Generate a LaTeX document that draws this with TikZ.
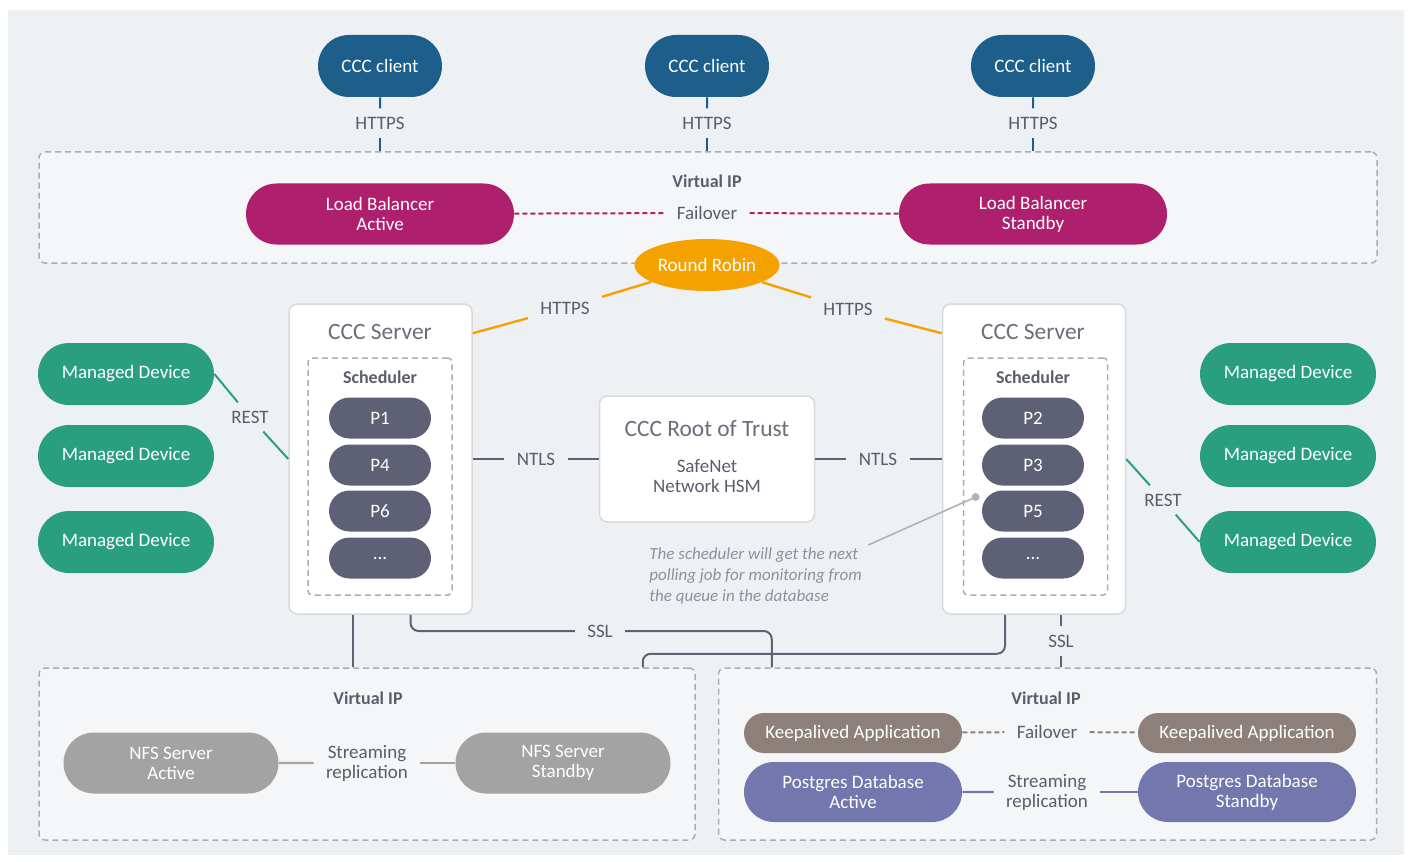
\documentclass[tikz,border=0pt]{standalone}
\usepackage{fontspec}
\setmainfont{Carlito}
\usepackage{xcolor}
\usetikzlibrary{shapes.misc,shapes.geometric}
\definecolor{bgc}{HTML}{EEF1F4}
\definecolor{boxc}{HTML}{F4F6F8}
\definecolor{dashc}{HTML}{A9AEB5}
\definecolor{cblue}{HTML}{1D5F8A}
\definecolor{lbmag}{HTML}{AE1F6D}
\definecolor{rrorange}{HTML}{F5A100}
\definecolor{devgreen}{HTML}{2A9F80}
\definecolor{jobslate}{HTML}{5E6175}
\definecolor{nfsgray}{HTML}{A3A3A3}
\definecolor{kabrown}{HTML}{8D807A}
\definecolor{pgpurple}{HTML}{7476AE}
\definecolor{linec}{HTML}{5F6272}
\definecolor{txtc}{HTML}{5A5D6B}
\definecolor{notec}{HTML}{8E919C}

\begin{document}
\begin{tikzpicture}[x=0.5pt,y=-0.5pt,
  every node/.style={font=\fontsize{9.5}{10}\selectfont},
  pill/.style={rounded rectangle,text=white,inner sep=0pt,align=center},
  client/.style={pill,fill=cblue,minimum width=62pt,minimum height=31pt},
  lb/.style={pill,fill=lbmag,minimum width=134pt,minimum height=30.5pt},
  dev/.style={pill,fill=devgreen,minimum width=88pt,minimum height=31pt},
  job/.style={pill,fill=jobslate,minimum width=51pt,minimum height=20.5pt},
  nfs/.style={pill,fill=nfsgray,minimum width=107.5pt,minimum height=30.5pt},
  ka/.style={pill,fill=kabrown,minimum width=109pt,minimum height=20pt},
  pg/.style={pill,fill=pgpurple,minimum width=109pt,minimum height=30pt},
  lbl/.style={text=txtc,inner xsep=6pt,inner ysep=4pt,align=center},
  ttl/.style={text=txtc,font=\bfseries\fontsize{9}{10}\selectfont,inner sep=0pt},
  big/.style={text=txtc!90,font=\fontsize{11.7}{14}\selectfont,inner sep=0pt},
  vipbox/.style={draw=dashc,dash pattern=on 3pt off 2pt,fill=boxc,line width=0.75pt,rounded corners=3pt},
  srvbox/.style={draw=black!15,fill=white,line width=0.75pt,rounded corners=4pt},
  schedbox/.style={draw=dashc,dash pattern=on 3pt off 2pt,line width=0.75pt,rounded corners=2pt},
  fline/.style={line width=1pt,dash pattern=on 2.5pt off 1.5pt},
  cline/.style={draw=cblue,line width=1pt},
  oline/.style={draw=rrorange,line width=1.2pt},
  gline/.style={draw=devgreen,line width=1pt},
  dline/.style={draw=linec,line width=1pt,rounded corners=4pt}]
%
\useasboundingbox (0,0) rectangle (1411,861);
\fill[white] (0,0) rectangle (1411,861);
\fill[bgc] (8,10) rectangle (1404,855);
%
% clients and load balancers
\node[vipbox,minimum width=669pt,minimum height=55.5pt] (vip) at (708,207.5) {};
\node[ttl] (vt) at (707,181) {Virtual IP};
\node[client] (cl1) at (380,66) {CCC client};
\node[client] (cl2) at (707,66) {CCC client};
\node[client] (cl3) at (1033,66) {CCC client};
\node[lbl] (h1) at (380,123) {HTTPS};
\node[lbl] (h2) at (707,123) {HTTPS};
\node[lbl] (h3) at (1033,123) {HTTPS};
\node[lb] (lba) at (380,214) {Load Balancer\\Active};
\node[lb] (lbs) at (1033,214) {Load Balancer\\Standby};
\node[lbl] (fo) at (707,213) {Failover};
\node[ellipse,fill=rrorange,text=white,inner sep=0pt,minimum width=72.5pt,minimum height=26pt] (rr) at (707,265) {Round Robin};
%
\draw[cline] (cl1) -- (h1);
\draw[cline] (h1) -- (h1 |- vip.north);
\draw[cline] (cl2) -- (h2);
\draw[cline] (h2) -- (h2 |- vip.north);
\draw[cline] (cl3) -- (h3);
\draw[cline] (h3) -- (h3 |- vip.north);
\draw[lbmag,fline] (lba) -- (fo);
\draw[lbmag,fline] (fo) -- (lbs);
%
% servers
\node[srvbox,minimum width=91.5pt,minimum height=155pt] (srvL) at (380.5,459) {};
\node[srvbox,minimum width=91.5pt,minimum height=155pt] (srvR) at (1034,459) {};
\node[big] (stL) at (380,332) {CCC Server};
\node[big] (stR) at (1033,332) {CCC Server};
\node[schedbox,minimum width=72pt,minimum height=118.5pt] (schL) at (380,476.5) {};
\node[schedbox,minimum width=72pt,minimum height=118.5pt] (schR) at (1035.5,476.5) {};
\node[ttl] (scL) at (380,377) {Scheduler};
\node[ttl] (scR) at (1033,377) {Scheduler};
\node[job] (p1) at (380,418) {P1};
\node[job] (p4) at (380,465) {P4};
\node[job] (p6) at (380,511) {P6};
\node[job] (pl) at (380,558) {...};
\node[job] (p2) at (1033,418) {P2};
\node[job] (p3) at (1033,465) {P3};
\node[job] (p5) at (1033,511) {P5};
\node[job] (pr) at (1033,558) {...};
%
\node[lbl] (hl) at (565,308) {HTTPS};
\node[lbl] (hr) at (848,309) {HTTPS};
\draw[oline] (rr) -- (hl);
\draw[oline] (hl) -- ([yshift=-15pt]srvL.north east);
\draw[oline] (rr) -- (hr);
\draw[oline] (hr) -- ([yshift=-15pt]srvR.north west);
%
% managed devices
\node[dev] (mdL1) at (126,374) {Managed Device};
\node[dev] (mdL2) at (126,456) {Managed Device};
\node[dev] (mdL3) at (126,542) {Managed Device};
\node[dev] (mdR1) at (1288,374) {Managed Device};
\node[dev] (mdR2) at (1288,456) {Managed Device};
\node[dev] (mdR3) at (1288,542) {Managed Device};
\node[lbl] (restL) at (250,417) {REST};
\node[lbl] (restR) at (1163,500) {REST};
\draw[gline] (mdL1.east) -- (restL);
\draw[gline] (restL) -- (srvL.west);
\draw[gline] (srvR.east) -- (restR);
\draw[gline] (restR) -- (mdR3.west);
%
% root of trust
\node[srvbox,minimum width=107.5pt,minimum height=63pt] (rot) at (707,459) {};
\node[big] (rt) at (707,429) {CCC Root of Trust};
\node[text=txtc,align=center,inner sep=0pt] (hsm) at (707,476) {SafeNet\\Network HSM};
\node[lbl] (ntL) at (536,459) {NTLS};
\node[lbl] (ntR) at (878,459) {NTLS};
\draw[dline] (srvL) -- (ntL);
\draw[dline] (ntL) -- (rot);
\draw[dline] (rot) -- (ntR);
\draw[dline] (ntR) -- (srvR);
%
% note
\node[text=notec,font=\itshape\fontsize{8.5}{10.5}\selectfont,align=left,inner sep=0pt,anchor=north west] (note) at (649,547)
  {The scheduler will get the next\\polling job for monitoring from\\the queue in the database};
\coordinate (dot) at ([xshift=-3pt,yshift=7pt]p5.west);
\draw[notec!70,line width=0.8pt] ([xshift=3pt,yshift=1pt]note.north east) -- (dot);
\fill[notec!70] (dot) circle (2pt);
%
% storage
\node[vipbox,minimum width=328pt,minimum height=86pt] (nfsbox) at (367,754) {};
\node[vipbox,minimum width=329pt,minimum height=86pt] (pgbox) at (1047.5,754) {};
\node[ttl] (vn) at (368,698) {Virtual IP};
\node[ttl] (vp) at (1046,698) {Virtual IP};
\node[nfs] (nfsA) at (171,763) {NFS Server\\Active};
\node[nfs] (nfsS) at (563,763) {NFS Server\\Standby};
\node[lbl] (srn) at (367,763) {Streaming\\replication};
\node[ka] (kaA) at (853,733) {Keepalived Application};
\node[ka] (kaS) at (1247,733) {Keepalived Application};
\node[lbl] (fok) at (1047,732) {Failover};
\node[pg] (pgA) at (853,792) {Postgres Database\\Active};
\node[pg] (pgS) at (1247,792) {Postgres Database\\Standby};
\node[lbl] (srp) at (1047,792) {Streaming\\replication};
%
\draw[nfsgray,line width=1.2pt] (nfsA) -- (srn);
\draw[nfsgray,line width=1.2pt] (srn) -- (nfsS);
\draw[kabrown,fline] (kaA) -- (fok);
\draw[kabrown,fline] (fok) -- (kaS);
\draw[pgpurple,line width=1.2pt] (pgA) -- (srp);
\draw[pgpurple,line width=1.2pt] (srp) -- (pgS);
%
% server to storage
\node[lbl] (sslL) at (600,631) {SSL};
\node[lbl] (sslR) at (1061,641) {SSL};
\draw[dline] ([xshift=-14pt]srvL.south) -- ([xshift=-14pt]srvL.south |- nfsbox.north);
\draw[dline] ([xshift=15pt]srvL.south) |- (sslL);
\draw[dline] (sslL) -| ([xshift=27pt]pgbox.north west);
\draw[dline] ([xshift=-14.5pt]srvR.south) -- ++(0,39) -| ([xshift=-26.5pt]nfsbox.north east);
\draw[dline] (srvR.south -| sslR) -- (sslR);
\draw[dline] (sslR) -- (sslR |- pgbox.north);
%
\end{tikzpicture}
\end{document}
